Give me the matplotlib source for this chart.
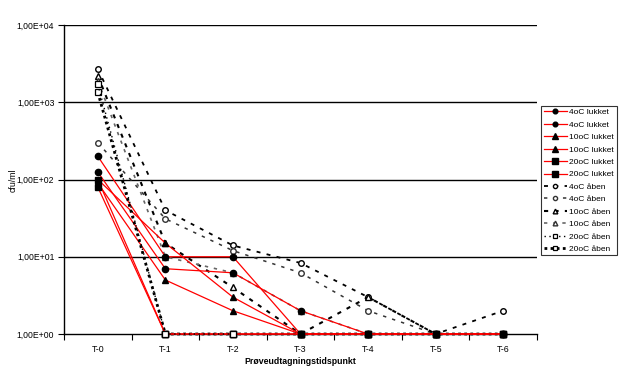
import numpy as np
import matplotlib
matplotlib.use("Agg")
import matplotlib.pyplot as plt
from matplotlib.lines import Line2D

nan = np.nan
categories = ["T-0", "T-1", "T-2", "T-3", "T-4", "T-5", "T-6"]
ytick_labels = ["1,00E+00", "1,00E+01", "1,00E+02", "1,00E+03", "1,00E+04"]

# lukket series
l4a = [200, 10, 10, 1, 1, 1, 1]
l4b = [125, 7, 6.2, 2, 1, 1, 1]
l10a = [100, 15, 3, 1, 1, 1, 1]
l10b = [90, 5, 2, 1, 1, 1, 1]
l20a = [100, 1, 1, 1, 1, 1, 1]
l20b = [80, 1, 1, 1, 1, 1, 1]
# åben series
a4a = [2700, 40, 14, 8.3, 3, 1, 2]
a4b = [300, 31, 12, 6.2, 2, 1, nan]
a10a = [2200, 15, 4, 1, 3, 1, nan]
a10b = [1900, 10, 6.2, 2, 1, 1, nan]
a20a = [1700, 1, 1, nan, nan, nan, nan]
a20b = [1350, 1, 1, 1, 1, 1, 1]

plt.rcParams['font.family'] = ['Liberation Sans', 'DejaVu Sans']
fig = plt.figure(figsize=(6.29, 3.73), dpi=100)
ax = fig.add_axes([64/629, 1-334/373, (537-64)/629, (334-25)/373])

x = np.arange(len(categories))

series = [
    (l4a, "4oC lukket", dict(color="red", lw=0.9, ls="-", marker="o", ms=4.5, mfc="black", mec="black"), 4),
    (l4b, "4oC lukket", dict(color="red", lw=0.9, ls="-", marker="o", ms=4.5, mfc="black", mec="black"), 4),
    (l10a, "10oC lukket", dict(color="red", lw=0.9, ls="-", marker="^", ms=5, mfc="black", mec="black"), 4),
    (l10b, "10oC lukket", dict(color="red", lw=0.9, ls="-", marker="^", ms=5, mfc="black", mec="black"), 4),
    (l20a, "20oC lukket", dict(color="red", lw=0.9, ls="-", marker="s", ms=5, mfc="black", mec="black"), 5),
    (l20b, "20oC lukket", dict(color="red", lw=0.9, ls="-", marker="s", ms=5, mfc="black", mec="black"), 5),
    (a4a, "4oC åben", dict(color="black", lw=1.3, ls=(0, (2.2, 3.5)), marker="o", ms=4, mfc="white", mec="black", mew=1.0), 3),
    (a4b, "4oC åben", dict(color="#333333", lw=1.1, ls=(0, (2.2, 4)), marker="o", ms=4, mfc="white", mec="#333333", mew=1.0), 3),
    (a10a, "10oC åben", dict(color="black", lw=1.5, ls=(0, (2, 3)), marker="^", ms=4.5, mfc="white", mec="black", mew=1.0), 3),
    (a10b, "10oC åben", dict(color="#666666", lw=1.2, ls=(0, (2, 3.5)), marker="^", ms=4.5, mfc="white", mec="#333333", mew=1.0), 3),
    (a20a, "20oC åben", dict(color="black", lw=1.0, ls=(0, (1, 2.5)), marker="s", ms=4.5, mfc="white", mec="black", mew=0.9), 6),
    (a20b, "20oC åben", dict(color="black", lw=2.0, ls=(0, (1, 1.2)), marker="s", ms=4.5, mfc="white", mec="black", mew=0.9), 4.5),
]

handles = []
for vals, label, style, z in series:
    ax.plot(x, vals, zorder=z, clip_on=False, **style)
    hs = dict(style)
    hs["ms"] = style["ms"] * 0.75
    handles.append(Line2D([0], [0], label=label, **hs))

ax.set_yscale("log")
ax.set_ylim(1, 1e4)
ax.set_xlim(-0.5, len(categories) - 0.5)
ax.set_yticks([1, 10, 100, 1000, 10000])
ax.set_yticklabels(ytick_labels)
ax.yaxis.set_minor_locator(matplotlib.ticker.NullLocator())
ax.set_xticks(x)
ax.set_xticklabels(categories)
ax.set_xticks(np.arange(-0.5, len(categories)), minor=True)
ax.tick_params(axis="x", which="major", length=0, labelsize=6.3, pad=8)
ax.tick_params(axis="x", which="minor", length=4, width=0.8, direction="out")
ax.tick_params(axis="y", which="major", length=4, width=0.8, labelsize=6.2, pad=3)

for v in [10, 100, 1000, 10000]:
    ax.axhline(v, color="black", lw=1.0, zorder=1)

ax.spines["top"].set_visible(False)
ax.spines["right"].set_visible(False)
ax.spines["left"].set_linewidth(1.0)
ax.spines["bottom"].set_linewidth(1.0)

fig.text(13/629, 1-180/373, "cfu/ml", rotation=90, fontsize=6.3, ha="center", va="center")
ax.set_xlabel("Prøveudtagningstidspunkt", fontsize=6.3, fontweight="bold", labelpad=2)

leg = fig.legend(handles=handles, loc="upper left", bbox_to_anchor=(541/629, 1-106/373),
                 fontsize=6.0, frameon=True, fancybox=False, edgecolor="black",
                 handlelength=2.8, handletextpad=0.3, labelspacing=0.55, borderpad=0.3,
                 borderaxespad=0)
leg.get_frame().set_linewidth(0.8)

fig.savefig("out.png", dpi=100)
